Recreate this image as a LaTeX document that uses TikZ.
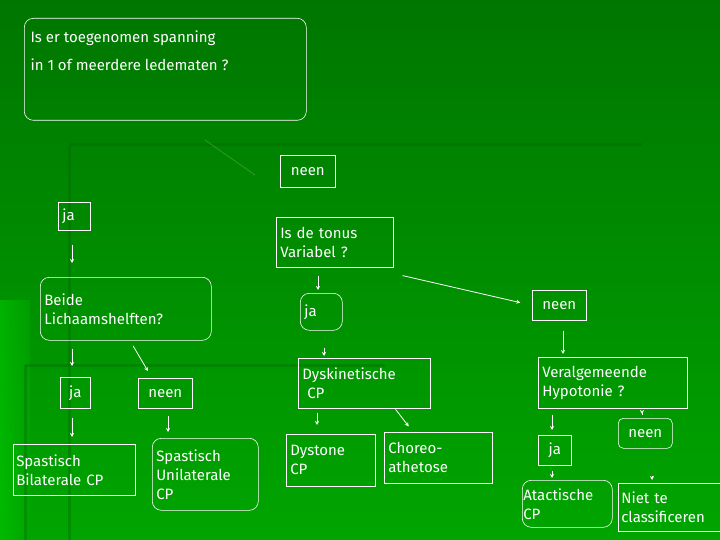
\documentclass[tikz,border=0pt]{standalone}
\usepackage{fontspec}
\setmainfont{Fira Sans}
\usetikzlibrary{arrows.meta}
\begin{document}
\begin{tikzpicture}[x=1pt,y=-1pt,
  box/.style={draw=white,line width=0.6pt,text=white,anchor=north west,align=left,inner sep=4pt,font=\fontsize{15}{19}\selectfont},
  rbox/.style={box,rounded corners=9pt},
  arr/.style={draw=white,line width=0.8pt,-{Stealth[length=4pt,width=4pt]},shorten <=7pt,shorten >=7pt},
  faint/.style={line width=3pt,draw=black!60!green,opacity=0.35}]
\useasboundingbox (0,0) rectangle (720,540);
\shade[top color={rgb,255:red,0;green,118;blue,0},bottom color={rgb,255:red,0;green,165;blue,0}] (0,0) rectangle (720,540);
\shade[left color={rgb,255:red,0;green,200;blue,0},right color={rgb,255:red,0;green,165;blue,0},opacity=0.6] (0,300) rectangle (30,540);
\draw[faint] (70,145) -- (642,145);
\draw[faint] (69,145) -- (69,540);
\draw[faint] (25,365) -- (385,365);
\draw[faint] (25,365) -- (25,540);
\draw[line width=1pt,draw=white,opacity=0.15] (205,140) -- (255,175);

\node[rbox,minimum width=282pt,minimum height=102pt] (q1) at (24,18) {};
\node[text=white,anchor=north west,align=left,font=\fontsize{15}{19}\selectfont] (q1t) at (27,27) {Is er toegenomen spanning\\[9pt]in 1 of meerdere ledematen ?};
\node[box,minimum width=55pt,minimum height=32pt,align=center] (neen1) at (280,155) {neen};
\node[box,minimum width=32pt,minimum height=28pt,text width=24pt] (ja1) at (58,202) {ja};
\node[box,minimum width=117pt,minimum height=50pt,text width=109pt] (tonus) at (276,217) {Is de tonus\\Variabel ?};
\node[rbox,minimum width=171pt,minimum height=63pt,text width=163pt] (beide) at (40,277) {Beide\\Lichaamshelften?};
\node[rbox,minimum width=42pt,minimum height=37pt,text width=34pt] (ja2) at (300,293) {ja};
\node[box,minimum width=54pt,minimum height=30pt,align=center] (neen2) at (532,290) {neen};
\node[box,minimum width=30pt,minimum height=31pt,align=center] (ja3) at (60,377) {ja};
\node[box,minimum width=54pt,minimum height=30pt,align=center] (neen3) at (138,378) {neen};
\node[box,minimum width=132pt,minimum height=50pt,text width=124pt] (dysk) at (298,358) {Dyskinetische\\\ CP};
\node[box,minimum width=149pt,minimum height=51pt,text width=141pt] (veral) at (538,357) {Veralgemeende\\Hypotonie ?};
\node[box,minimum width=122pt,minimum height=51pt,text width=116pt,inner sep=3pt] (sbil) at (13,444) {Spastisch\\Bilaterale CP};
\node[rbox,minimum width=106pt,minimum height=72pt,text width=98pt] (suni) at (152,438) {Spastisch\\Unilaterale\\CP};
\node[box,minimum width=89pt,minimum height=52pt,text width=81pt] (dyst) at (286,434) {Dystone\\CP};
\node[box,minimum width=108pt,minimum height=51pt,text width=100pt] (chor) at (384,432) {Choreo-\\athetose};
\node[box,minimum width=33pt,minimum height=30pt,align=center] (ja4) at (538,435) {ja};
\node[rbox,rounded corners=5pt,minimum width=54pt,minimum height=30pt,align=center] (neen4) at (618,418) {neen};
\node[rbox,minimum width=90pt,minimum height=47pt,inner sep=1pt,text width=88pt] (atac) at (522,480) {Atactische\\CP};
\node[box,minimum width=102pt,minimum height=48pt,text width=96pt,inner sep=3pt] (niet) at (618,483) {Niet te\\classificeren};

\path (tonus.south east) ++(9,8) coordinate (a1);
\draw[arr,shorten <=14pt,shorten >=14pt] (ja1.south -| 72,0) -- (beide.north -| 72,0);
\draw[arr,shorten <=8pt,shorten >=3pt] (tonus.south -| 318,0) -- (ja2.north -| 318,0);
\draw[arr,shorten <=0pt,shorten >=12pt] (a1) -- (neen2.west);
\draw[arr,shorten <=8pt,shorten >=11pt] (beide.south -| 72,0) -- (ja3.north -| 72,0);
\draw[arr,shorten <=6pt,shorten >=8pt] (beide.south -| 130,0) -- (neen3.north -| 152,0);
\draw[arr,shorten <=17pt,shorten >=2pt] (ja2.south -| 324,0) -- (dysk.north -| 324,0);
\draw[arr,shorten <=10pt,shorten >=3pt] (neen2.south -| 563,0) -- (veral.north -| 563,0);
\draw[arr,shorten <=9pt] (ja3.south -| 72,0) -- (sbil.north -| 72,0);
\draw[arr,shorten <=7pt,shorten >=6pt] (neen3.south -| 168,0) -- (suni.north -| 168,0);
\draw[arr,shorten <=4pt,shorten >=9pt] (dysk.south -| 317,0) -- (dyst.north -| 317,0);
\draw[arr,shorten <=1pt,shorten >=7pt] (dysk.south -| 395,0) -- (chor.north -| 413,0);
\draw[arr,shorten <=6pt,shorten >=5pt] (veral.south -| 552,0) -- (ja4.north -| 552,0);
\draw[arr,shorten <=6pt,shorten >=4pt] (veral.south -| 642,0) -- (neen4.north -| 642,0);
\draw[arr,shorten <=5pt,shorten >=2pt] (ja4.south -| 552,0) -- (atac.north -| 552,0);
\draw[arr,shorten <=27pt,shorten >=3pt] (neen4.south -| 652,0) -- (niet.north -| 652,0);
\end{tikzpicture}
\end{document}
